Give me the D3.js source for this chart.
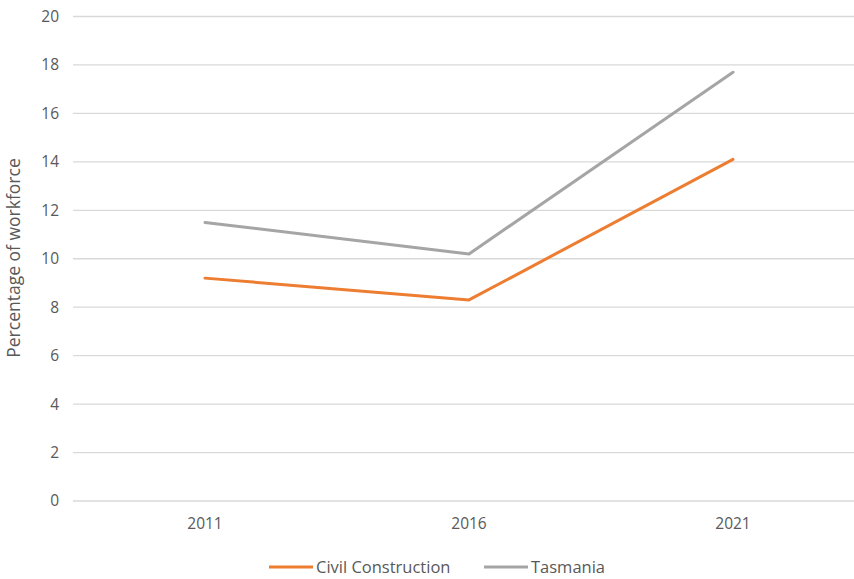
<!DOCTYPE html>
<html>
<head>
<meta charset="utf-8">
<script src="https://cdn.jsdelivr.net/npm/d3@7"></script>
<style>
  html, body { margin: 0; padding: 0; background: #fff; }
  svg { display: block; font-family: "Open Sans", "Liberation Sans", sans-serif; }
</style>
</head>
<body>
<svg id="chart" width="854" height="579"></svg>
<script>
// Census years on the category axis
const years = ["2011", "2016", "2021"];
// Share of workforce (%) by series
const civilConstruction = [9.2, 8.3, 14.1];
const tasmania = [11.5, 10.2, 17.7];
const seriesNames = ["Civil Construction", "Tasmania"];
const yTicks = [0, 2, 4, 6, 8, 10, 12, 14, 16, 18, 20];

const series = [
  { name: seriesNames[0], values: civilConstruction, color: "#ED7D31" },
  { name: seriesNames[1], values: tasmania, color: "#A5A5A5" }
];

const svg = d3.select("#chart");
const margin = { left: 73, top: 16.5, bottom: 501 };
const plotWidth = 792;
const fontFamily = "'Open Sans', 'Liberation Sans', sans-serif";

const x = d3.scaleBand().domain(years).range([margin.left, margin.left + plotWidth]);
const y = d3.scaleLinear().domain([0, 20]).range([margin.bottom, margin.top]);

// Horizontal gridlines
svg.append("g")
  .selectAll("line")
  .data(yTicks)
  .join("line")
  .attr("x1", margin.left)
  .attr("x2", margin.left + plotWidth)
  .attr("y1", d => y(d))
  .attr("y2", d => y(d))
  .attr("stroke", "#D9D9D9")
  .attr("stroke-width", 1.3);

// Y axis labels
const yAxis = svg.append("g")
  .attr("transform", `translate(${margin.left - 14},0)`)
  .call(d3.axisLeft(y).tickValues(yTicks).tickSize(0).tickPadding(0));
yAxis.select(".domain").remove();
yAxis.selectAll("text")
  .attr("fill", "#595959")
  .style("font-size", "15.5px")
  .style("font-family", fontFamily);

// X axis labels
const xAxis = svg.append("g")
  .attr("transform", `translate(0,${margin.bottom + 17})`)
  .call(d3.axisBottom(x).tickSize(0).tickPadding(0));
xAxis.select(".domain").remove();
xAxis.selectAll("text")
  .attr("fill", "#595959")
  .style("font-size", "15.5px")
  .style("font-family", fontFamily);

// Y axis title
svg.append("text")
  .attr("transform", "translate(20,258) rotate(-90)")
  .attr("text-anchor", "middle")
  .attr("fill", "#595959")
  .style("font-size", "17.5px")
  .text("Percentage of workforce");

// Series lines
const line = d3.line()
  .x((d, i) => x(years[i]) + x.bandwidth() / 2)
  .y(d => y(d));

svg.append("g")
  .selectAll("path")
  .data(series)
  .join("path")
  .attr("d", d => line(d.values))
  .attr("fill", "none")
  .attr("stroke", d => d.color)
  .attr("stroke-width", 3)
  .attr("stroke-linejoin", "round")
  .attr("stroke-linecap", "round");

// Legend
const legendY = 567;
const legendItems = [
  { x: 269, textX: 316 },
  { x: 484, textX: 531 }
];
const legend = svg.append("g");
series.forEach((s, i) => {
  const pos = legendItems[i];
  legend.append("line")
    .attr("x1", pos.x).attr("x2", pos.x + 44)
    .attr("y1", legendY).attr("y2", legendY)
    .attr("stroke", s.color)
    .attr("stroke-width", 3);
  legend.append("text")
    .attr("x", pos.textX)
    .attr("y", legendY)
    .attr("dy", "0.35em")
    .attr("fill", "#595959")
    .style("font-size", "16.5px")
    .text(s.name);
});
</script>
</body>
</html>
